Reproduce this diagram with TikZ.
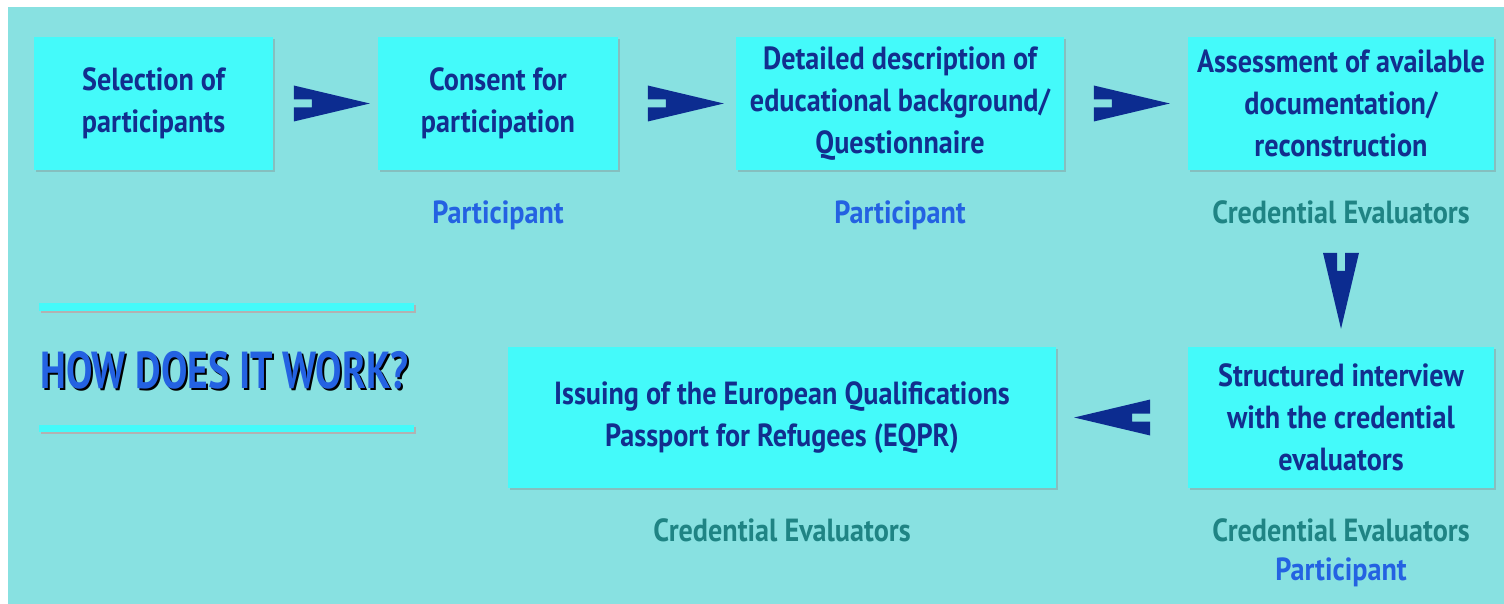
\documentclass[tikz,border=0pt]{standalone}
\usepackage{fontspec}
\setmainfont{PT Sans}[FakeStretch=0.88]
\newfontfamily\titlefont{PT Sans}[FakeStretch=0.76]
\usetikzlibrary{positioning,shadows}
\definecolor{bgcyan}{HTML}{88E1E1}
\definecolor{boxcyan}{HTML}{44FAFA}
\definecolor{navy}{HTML}{122E8E}
\definecolor{partblue}{HTML}{2462E2}
\definecolor{evalteal}{HTML}{1F8484}
\definecolor{arrownavy}{HTML}{0C2C90}

\begin{document}
\begin{tikzpicture}[x=1pt,y=-1pt]
	\tikzset{stepbox/.style={fill=boxcyan,draw=none,align=center,text=navy,
			font=\bfseries\fontsize{32}{42}\selectfont,
			drop shadow={opacity=0.35,shadow xshift=2pt,shadow yshift=-2pt}},
		who/.style={text=partblue,inner sep=0pt,font=\bfseries\fontsize{32}{38}\selectfont},
		evaluator/.style={text=evalteal,inner sep=0pt,font=\bfseries\fontsize{32}{38}\selectfont},
		flowarrow/.pic={\fill[arrownavy] (-76,18) -- (0,0) -- (-76,-18) -- (-76,-4) -- (-58,-4) -- (-58,4) -- (-76,4) -- cycle;}}
	
	% Page and background
	\useasboundingbox (0,0) rectangle (1504,604);
	\fill[white] (0,0) rectangle (1504,604);
	\fill[bgcyan] (8,7) rectangle (1504,604);
	
	% Top row of steps
	\node[stepbox,minimum width=239pt,minimum height=133pt] (b1) at (153.5,103.5) {Selection of\\participants};
	\node[stepbox,minimum width=240pt,minimum height=133pt] (b2) at (498,103.5) {Consent for\\participation};
	\node[stepbox,minimum width=328pt,minimum height=133pt] (b3) at (900,103.5) {Detailed description of\\educational background/\\Questionnaire};
	\node[stepbox,minimum width=306pt,minimum height=133pt] (b4) at (1341,103.5) {Assessment of available\\documentation/\\reconstruction};
	
	% Bottom row of steps
	\node[stepbox,minimum width=306pt,minimum height=141pt] (b5) at (1341,417.5) {Structured interview\\with the credential\\evaluators};
	\node[stepbox,minimum width=548pt,minimum height=141pt] (b6) at (782,417.5) {Issuing of the European Qualifications\\Passport for Refugees (EQPR)};
	
	% Who does it
	\node[who,below=30pt of b2] (w2) {Participant};
	\node[who,below=30pt of b3] (w3) {Participant};
	\node[evaluator,below=30pt of b4] (e4) {Credential Evaluators};
	\node[evaluator,below=30pt of b6] (e6) {Credential Evaluators};
	\node[evaluator,below=30pt of b5] (e5) {Credential Evaluators};
	\node[who,below=16pt of e5] (w5) {Participant};
	
	% Arrows between the steps
	\pic at ([xshift=-8pt]b2.west) {flowarrow};
	\pic at ([xshift=-12pt]b3.west) {flowarrow};
	\pic at ([xshift=-18pt]b4.west) {flowarrow};
	\pic[rotate=-90] at ([yshift=18pt]b5.north) {flowarrow};
	\pic[rotate=180] at ([xshift=18pt]b6.east) {flowarrow};
	
	% Title with lines
	\fill[gray!60] (41,305) rectangle (416,313);
	\fill[boxcyan] (39,303) rectangle (414,311);
	\fill[gray!60] (41,427) rectangle (416,434);
	\fill[boxcyan] (39,425) rectangle (414,432);
	\node[text=black,font=\titlefont\bfseries\fontsize{52}{52}\selectfont] (titleshadow) at (226.5,372.5) {HOW DOES IT WORK?};
	\node[text=partblue,font=\titlefont\bfseries\fontsize{52}{52}\selectfont] (title) at (224.5,370.5) {HOW DOES IT WORK?};
\end{tikzpicture}
\end{document}
